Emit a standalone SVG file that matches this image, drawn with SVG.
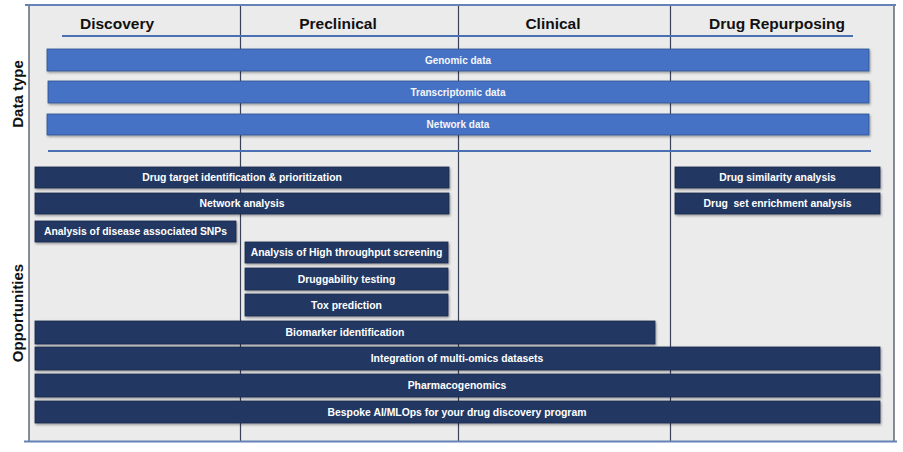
<svg xmlns="http://www.w3.org/2000/svg" width="903" height="452" viewBox="0 0 903 452">
<defs>
<filter id="sh" x="-5%" y="-30%" width="110%" height="170%">
<feDropShadow dx="1" dy="1.5" stdDeviation="1" flood-color="#000" flood-opacity="0.35"/>
</filter>
<style>
.frame{fill:#ebebeb;stroke:none}
.edge{stroke:#6582b8;stroke-width:2;fill:none}
.div{stroke:#3b4256;stroke-width:1.2;fill:none}
.uline{stroke:#4a6fb3;stroke-width:1.8;fill:none}
.hdr{font-family:"Liberation Sans",Arial,sans-serif;font-weight:bold;font-size:15.5px;fill:#111;text-anchor:middle}
.axis{font-family:"Liberation Sans",Arial,sans-serif;font-weight:bold;font-size:15px;fill:#111;text-anchor:middle}
.data rect{fill:#4472c4;stroke:#2f528f;stroke-width:0.8;filter:url(#sh)}
.opp rect{fill:#203864;stroke:#15284a;stroke-width:0.8;filter:url(#sh)}
.lbl{font-family:"Liberation Sans",Arial,sans-serif;font-weight:bold;font-size:10.4px;fill:#fff;text-anchor:middle;dominant-baseline:central}
.dl{font-family:"Liberation Sans",Arial,sans-serif;font-weight:bold;font-size:10px;fill:#f4f6fb;text-anchor:middle;dominant-baseline:central}
</style>
</defs>
<rect width="903" height="452" fill="#fff"/>
<g id="grid">
<rect class="frame" x="29" y="5" width="865" height="436"/>
<line class="div" x1="29" y1="5" x2="29" y2="441"/>
<line class="div" x1="240.5" y1="5" x2="240.5" y2="441"/>
<line class="div" x1="458.5" y1="5" x2="458.5" y2="441"/>
<line class="div" x1="670.5" y1="5" x2="670.5" y2="441"/>
<line class="div" x1="894" y1="5" x2="894" y2="441"/>
<line class="edge" x1="25" y1="5" x2="896" y2="5"/>
<line class="edge" x1="24" y1="441.5" x2="897" y2="441.5"/>
<line class="uline" x1="62" y1="36" x2="853" y2="36"/>
<line class="uline" x1="48" y1="151" x2="871" y2="151"/>
</g>
<g id="headers">
<text class="hdr" x="117" y="29">Discovery</text>
<text class="hdr" x="338" y="29">Preclinical</text>
<text class="hdr" x="553" y="29">Clinical</text>
<text class="hdr" x="777" y="29">Drug Repurposing</text>
<text class="axis" transform="translate(23,94) rotate(-90)">Data type</text>
<text class="axis" transform="translate(23,313) rotate(-90)">Opportunities</text>
</g>
<g id="data-genomic" class="data"><rect x="47" y="49" width="822" height="22"/><text class="dl" x="458" y="60">Genomic data</text></g>
<g id="data-transcriptomic" class="data"><rect x="48" y="81" width="821" height="22"/><text class="dl" x="458" y="92">Transcriptomic data</text></g>
<g id="data-network" class="data"><rect x="47" y="114" width="822" height="21"/><text class="dl" x="458" y="124.5">Network data</text></g>
<g id="opp-target" class="opp"><rect x="35" y="167" width="414" height="21"/><text class="lbl" x="242" y="177.5">Drug target identification &amp; prioritization</text></g>
<g id="opp-network" class="opp"><rect x="35" y="193" width="414" height="21"/><text class="lbl" x="242" y="203.5">Network analysis</text></g>
<g id="opp-snps" class="opp"><rect x="35" y="221" width="201" height="21"/><text class="lbl" x="135.5" y="231.5">Analysis of disease associated SNPs</text></g>
<g id="opp-hts" class="opp"><rect x="245" y="242" width="203" height="21"/><text class="lbl" x="346.5" y="252.5">Analysis of High throughput screening</text></g>
<g id="opp-druggability" class="opp"><rect x="245" y="268" width="203" height="22"/><text class="lbl" x="346.5" y="279">Druggability testing</text></g>
<g id="opp-tox" class="opp"><rect x="245" y="294" width="203" height="22"/><text class="lbl" x="346.5" y="305">Tox prediction</text></g>
<g id="opp-biomarker" class="opp"><rect x="35" y="321" width="620" height="23"/><text class="lbl" x="345" y="332.5">Biomarker identification</text></g>
<g id="opp-multiomics" class="opp"><rect x="35" y="347" width="845" height="23"/><text class="lbl" x="457" y="358.5">Integration of multi-omics datasets</text></g>
<g id="opp-pgx" class="opp"><rect x="35" y="374" width="845" height="23"/><text class="lbl" x="457" y="385.5">Pharmacogenomics</text></g>
<g id="opp-bespoke" class="opp"><rect x="35" y="401" width="845" height="22"/><text class="lbl" x="457" y="412">Bespoke AI/MLOps for your drug discovery program</text></g>
<g id="opp-similarity" class="opp"><rect x="675" y="167" width="205" height="21"/><text class="lbl" x="777.5" y="177.5">Drug similarity analysis</text></g>
<g id="opp-enrichment" class="opp"><rect x="675" y="193" width="205" height="21"/><text class="lbl" x="777.5" y="203.5" xml:space="preserve">Drug  set enrichment analysis</text></g>
</svg>
